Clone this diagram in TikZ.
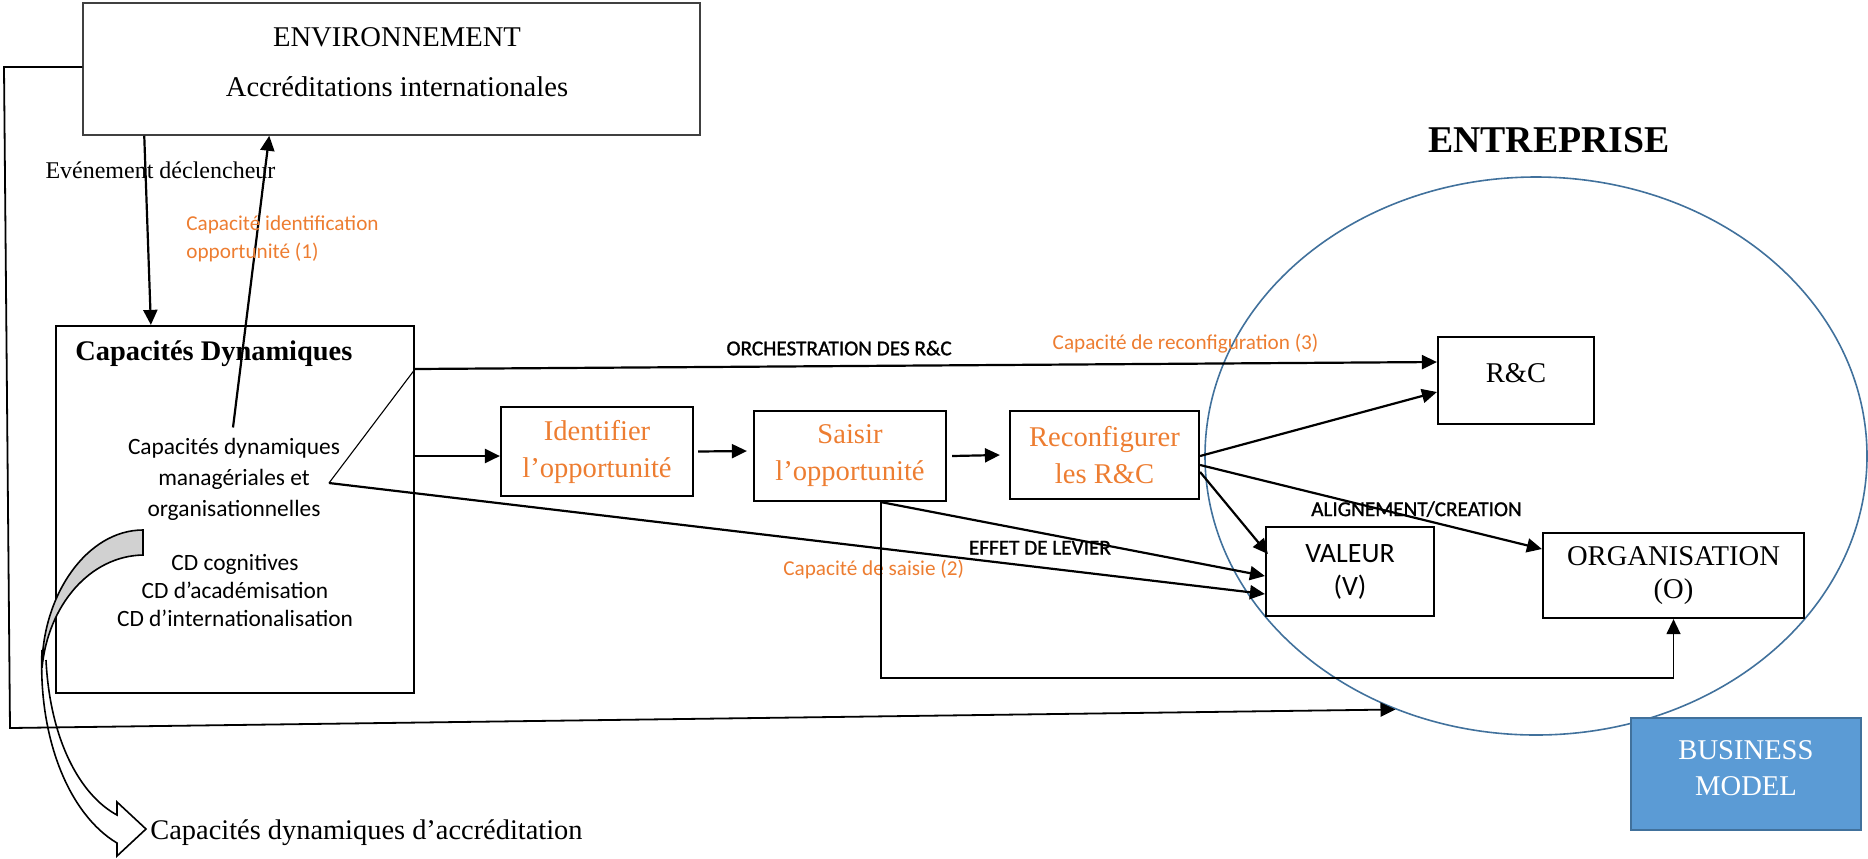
\documentclass[tikz,border=0pt]{standalone}
\usepackage{fontspec}
\setmainfont{Liberation Serif}
\newfontfamily\calibri{Carlito}
\newfontfamily\calibrithick{Carlito}[FakeBold=1.2]
\usetikzlibrary{arrows.meta,shapes.geometric}
\definecolor{orangeword}{HTML}{ED7D31}
\definecolor{blueline}{HTML}{41719C}
\definecolor{bluefill}{HTML}{5B9BD5}

\begin{document}
\begin{tikzpicture}[x=0.5pt,y=-0.5pt,
  every node/.style={inner sep=0pt},
  box/.style={draw,line width=1.1pt,align=center,font=\fontsize{14.3}{18.5}\selectfont},
  arr/.style={line width=1.1pt,-{Triangle[length=7.5pt,width=7pt]}},
  lbl/.style={font=\calibrithick\fontsize{10.6}{14}\selectfont},
  orlbl/.style={font=\calibri\fontsize{10.6}{14}\selectfont,text=orangeword}]
  \useasboundingbox (0,0) rectangle (1868,858);

  \node[draw=black!75,line width=0.75pt,minimum width=308.5pt,minimum height=66pt] (env) at (391.5,69) {};
  \node[font=\fontsize{14.3}{17}\selectfont] (envtitle) at (397,37) {ENVIRONNEMENT};
  \node[font=\fontsize{14.3}{17}\selectfont] (envsub) at (397,87) {Accréditations internationales};

  \node[ellipse,draw=blueline,line width=0.8pt,minimum width=331pt,minimum height=279pt] (ent) at (1536,456) {};
  \node[font=\bfseries\fontsize{18.9}{22}\selectfont] (enttitle) at (1549,140) {ENTREPRISE};

  \node[draw,line width=1.1pt,minimum width=179pt,minimum height=183.5pt] (cd) at (235,509.5) {};
  \node[anchor=west,font=\bfseries\fontsize{14.2}{17}\selectfont] (cdtitle) at (75,354) {Capacités Dynamiques};
  \node[font=\calibri\fontsize{11.7}{15.5}\selectfont,align=center] (cdmgr) at (234,479)
    {Capacités dynamiques\\managériales et\\organisationnelles};
  \node[font=\calibri\fontsize{11.7}{14}\selectfont,align=center] (cdlist) at (235,590)
    {CD cognitives\\CD d’académisation\\CD d’internationalisation};

  \node[box,minimum width=96pt,minimum height=44.5pt,text=orangeword] (ident) at (597,451.5) {Identifier\\l’opportunité};
  \node[box,minimum width=96pt,minimum height=45pt,text=orangeword] (saisir) at (850,456) {Saisir\\l’opportunité};
  \node[box,minimum width=94.5pt,minimum height=44pt,text=orangeword] (reconf) at (1104.5,455) {Reconfigurer\\les R\&C};
  \node[box,minimum width=78pt,minimum height=43.5pt,text depth=7.5pt] (rc) at (1516,380.5) {R\&C};
  \node[box,minimum width=84pt,minimum height=44.5pt,font=\calibri\fontsize{14}{16.5}\selectfont] (val) at (1350,571.5) {VALEUR\\(V)};
  \node[box,minimum width=130.5pt,minimum height=42.5pt,font=\fontsize{14.3}{16.5}\selectfont] (org) at (1673.5,575.5) {ORGANISATION\\(O)};
  \node[box,fill=bluefill,draw=blueline,line width=0.75pt,text=white,minimum width=115pt,minimum height=56pt,
    text depth=6pt,font=\fontsize{14.3}{18}\selectfont] (bm) at (1746,774) {BUSINESS\\MODEL};

  \draw[arr] ([xshift=31pt]env.south west) -- ([xshift=48pt]cd.north west)
    node[pos=0.18,xshift=7.5pt,font=\fontsize{12}{14}\selectfont] (evt) {Evénement déclencheur};
  \draw[arr] ([xshift=-0.5pt,yshift=5pt]cdmgr.north) -- ([xshift=93.5pt]env.south west);
  \node[orlbl,anchor=west,align=left] (capid) at (186,239) {Capacité identification\\opportunité (1)};

  \coordinate (lp1) at (4,67);
  \coordinate (lp2) at (10,728);
  \draw[arr,line width=0.9pt] ([yshift=1pt]env.west) -- (lp1) -- (lp2) -- (ent.241.7);

  \coordinate (orch) at ([yshift=70.25pt]cd.east);
  \coordinate (tri) at (329,483);
  \draw[line width=0.55pt] (orch) -- (tri);
  \draw[arr] (orch) -- ([yshift=9.25pt]rc.west)
    node[lbl,pos=0.415,yshift=9pt] (orchlbl) {ORCHESTRATION DES R\&C}
    node[orlbl,pos=0.754,yshift=10pt] (reconflbl) {Capacité de reconfiguration (3)};

  \draw[arr] ([yshift=26.75pt]cd.east) -- ([yshift=-2.25pt]ident.west);
  \draw[arr] ([xshift=2pt]ident.east) -- ([xshift=-3pt,yshift=2.5pt]saisir.west);
  \draw[arr] ([xshift=2.5pt]saisir.east) -- ([xshift=-4.5pt]reconf.west);
  \draw[arr] ([yshift=-0.5pt]reconf.east) -- ([yshift=-5.75pt]rc.west);
  \draw[arr] ([yshift=-5pt]reconf.east) -- ([yshift=13.25pt]org.west)
    node[lbl,pos=0.633,yshift=4.5pt] (alignlbl) {ALIGNEMENT/CREATION};
  \draw[arr] ([yshift=-8.5pt]reconf.east) -- ([xshift=1.5pt,yshift=8.75pt]val.west);
  \draw[arr] ([xshift=15.5pt]saisir.south) -- ([yshift=-2.25pt]val.west)
    node[lbl,pos=0.414,yshift=-7.5pt] (levierlbl) {EFFET DE LEVIER};
  \draw[arr] (tri) -- ([yshift=-11.25pt]val.west)
    node[orlbl,pos=0.582,yshift=-11pt] (saisielbl) {Capacité de saisie (2)};
  \draw[arr,line width=0.7pt] ([xshift=15.5pt]saisir.south) -- ++(0,176) -| (org.south);

  \filldraw[fill=black!18,line width=0.8pt] (143,530) .. controls (87,530) and (42,595) .. (42,668)
    .. controls (48,605) and (90,556) .. (143,555) -- cycle;
  \draw[line width=0.8pt] (42,650) .. controls (38,740) and (70,815) .. (117,843) -- (117,856) -- (146,829)
    -- (117,802) -- (117,815) .. controls (80,795) and (50,740) .. (46,660);
  \node[anchor=west,font=\fontsize{14.2}{17}\selectfont] (accr) at (150,833) {Capacités dynamiques d’accréditation};
\end{tikzpicture}
\end{document}
